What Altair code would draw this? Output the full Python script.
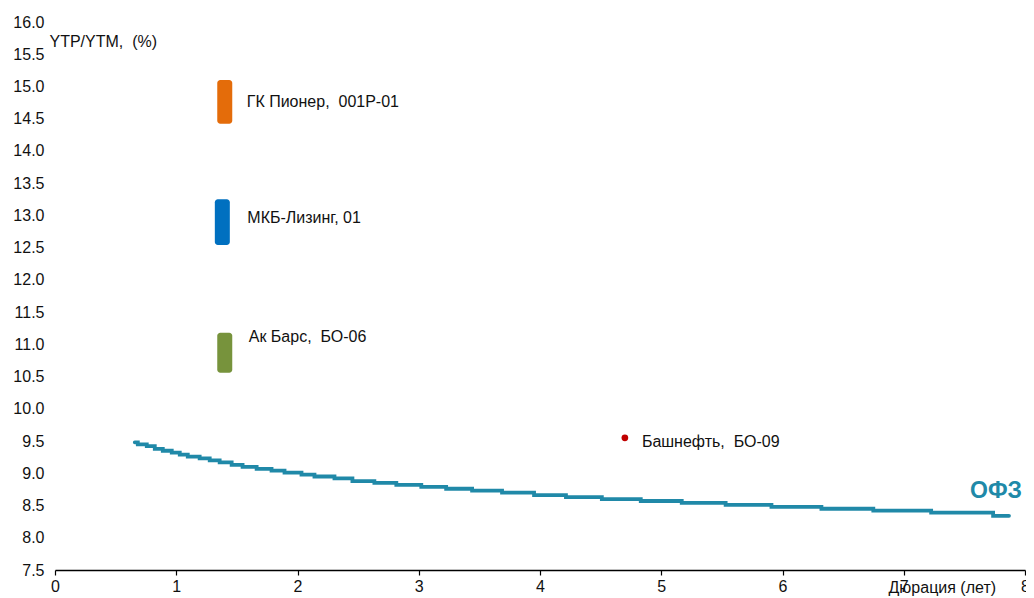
import altair as alt
import pandas as pd

# OFZ curve (step breakpoints: duration, yield)
ofz_dur = [0.658, 0.683, 0.757, 0.823, 0.889, 0.963, 1.029, 1.095, 1.193, 1.276,
           1.358, 1.457, 1.547, 1.663, 1.786, 1.893, 2.033, 2.140, 2.305, 2.453,
           2.634, 2.815, 3.021, 3.226, 3.440, 3.687, 3.951, 4.214, 4.510, 4.831,
           5.169, 5.531, 5.909, 6.321, 6.749, 7.226, 7.737, 7.868]
ofz_ytm = [9.48, 9.45, 9.42, 9.38, 9.35, 9.32, 9.29, 9.26, 9.23, 9.20,
           9.17, 9.13, 9.10, 9.07, 9.04, 9.01, 8.98, 8.95, 8.92, 8.88,
           8.85, 8.82, 8.79, 8.76, 8.73, 8.70, 8.66, 8.63, 8.60, 8.57,
           8.54, 8.51, 8.48, 8.45, 8.42, 8.39, 8.34, 8.34]

# Range bonds (duration, yield low, yield high)
bond_names = ["ГК Пионер,\u00a0\u00a0001Р-01", "МКБ-Лизинг,\u00a001",
              "Ак Барс,\u00a0\u00a0БО-06"]
bond_dur = [1.40, 1.38, 1.40]
bond_lo = [14.42, 12.54, 10.56]
bond_hi = [15.10, 13.25, 11.18]
bond_colors = ["#E46C0A", "#0070C0", "#77933C"]

# Point bond
pt_name = ["Башнефть,\u00a0\u00a0БО-09"]
pt_dur = [4.70]
pt_ytm = [9.55]

x_ticks = [0, 1, 2, 3, 4, 5, 6, 7, 8]
y_ticks = [7.5, 8.0, 8.5, 9.0, 9.5, 10.0, 10.5, 11.0, 11.5, 12.0, 12.5,
           13.0, 13.5, 14.0, 14.5, 15.0, 15.5, 16.0]

FONT = "Liberation Sans"
TEAL = "#2089A8"
FS = 16

ofz = pd.DataFrame({"dur": ofz_dur, "ytm": ofz_ytm})
bonds = pd.DataFrame({"name": bond_names, "dur": bond_dur, "lo": bond_lo,
                      "hi": bond_hi, "color": bond_colors})
bonds["mid"] = (bonds["lo"] + bonds["hi"]) / 2
pt = pd.DataFrame({"name": pt_name, "dur": pt_dur, "ytm": pt_ytm})

xs = alt.Scale(domain=[0, 8], nice=False, padding=0)
ys = alt.Scale(domain=[7.5, 16], nice=False, zero=False, padding=0)

xax = alt.Axis(values=x_ticks, format="d", title="Дюрация (лет)")
yax = alt.Axis(values=y_ticks, format=".1f", title="YTP/YTM,\u00a0\u00a0(%)")

X = alt.X("dur:Q", scale=xs, axis=xax)
Y = lambda f: alt.Y(f, scale=ys, axis=yax)

line = alt.Chart(ofz).mark_line(color=TEAL, strokeWidth=3.8,
                                interpolate="step-after", strokeCap="round").encode(
    x=X, y=Y("ytm:Q"))

ofz_label = alt.Chart(ofz.tail(1)).mark_text(
    text="ОФЗ", font=FONT, fontSize=23, fontWeight="bold", color=TEAL,
    align="center", baseline="middle", dx=-13, dy=-25).encode(
    x=X, y=Y("ytm:Q"))

bars = alt.Chart(bonds).mark_bar(width=15, cornerRadius=3).encode(
    x=X, y=Y("lo:Q"), y2="hi:Q",
    color=alt.Color("color:N", scale=None),
)

label_dx = [22, 25, 24]
label_dy = [0, -4, -16]
labels = []
for i in range(len(bond_names)):
    labels.append(
        alt.Chart(bonds.iloc[[i]]).mark_text(
            font=FONT, fontSize=FS, color="#111", align="left",
            baseline="middle", dx=label_dx[i], dy=label_dy[i]).encode(
            x=X, y=Y("mid:Q"), text="name:N"))

dot = alt.Chart(pt).mark_circle(size=45, color="#C00000", opacity=1).encode(
    x=X, y=Y("ytm:Q"))
dot_label = alt.Chart(pt).mark_text(
    font=FONT, fontSize=FS, color="#111", align="left", baseline="middle",
    dx=17, dy=4).encode(x=X, y=Y("ytm:Q"), text="name:N")

chart = alt.layer(line, ofz_label, bars, *labels, dot, dot_label).properties(
    width=970, height=548,
    autosize=alt.AutoSizeParams(type="none"),
    padding={"left": 47, "top": 14, "right": 1, "bottom": 26},
    background="white",
).configure_view(stroke=None).configure_axis(
    labelOverlap=False, labelFlush=False, grid=False, labelFont=FONT,
    labelColor="#111", titleFont=FONT, titleFontWeight="normal",
    titleColor="#111",
).configure_axisX(
    domainColor="black", domainWidth=1.5, tickColor="black", tickSize=5,
    tickWidth=1.2, labelFontSize=FS, labelPadding=3, titleFontSize=FS,
    titleX=833, titleY=17, titleAlign="left", titleAnchor="start",
    titleBaseline="middle",
).configure_axisY(
    domain=False, ticks=False, labelFontSize=FS, labelPadding=11,
    titleFontSize=FS, titleAngle=0, titleX=-6, titleY=19, titleAlign="left",
    titleBaseline="middle", titleAnchor="start",
)

chart.save("out.html", embed_options={"renderer": "svg", "actions": False})
